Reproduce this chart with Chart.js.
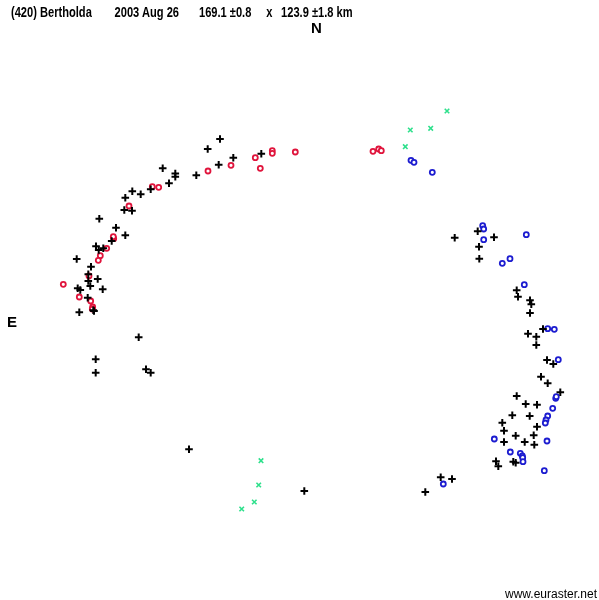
<!DOCTYPE html>
<html>
<head>
<meta charset="utf-8">
<script src="https://cdn.jsdelivr.net/npm/chart.js@4"></script>
<style>
  html, body { margin: 0; padding: 0; background: #fff; }
  #wrap { position: relative; width: 599px; height: 600px; overflow: hidden; }
  canvas { position: absolute; left: 0; top: 0; }
  .lbl { position: absolute; font-family: "Liberation Sans", Arial, sans-serif; color: #000; white-space: pre; line-height: 1; }
  #title { left: 11px; top: 4px; font-size: 15px; font-weight: bold; transform: scaleX(0.74); transform-origin: 0 0; width: 600px; height: 20px; }
  #title span { position: absolute; top: 0; }
  #n { left: 311px; top: 20px; font-size: 15px; font-weight: bold; }
  #e { left: 7px; top: 314px; font-size: 15px; font-weight: bold; }
  #foot { left: 505px; top: 588px; font-size: 12px; }
</style>
</head>
<body>
<div id="wrap">
  <canvas id="c" width="599" height="600"></canvas>
  <div class="lbl" id="title"><span style="left:0px">(420) Bertholda</span><span style="left:140px">2003 Aug 26</span><span style="left:254px">169.1 ±0.8</span><span style="left:345px">x</span><span style="left:365px">123.9 ±1.8 km</span></div>
  <div class="lbl" id="n">N</div>
  <div class="lbl" id="e">E</div>
  <div class="lbl" id="foot">www.euraster.net</div>
</div>
<script>
// Sky-plane plot units (east to the left, north up)
const positiveChordsX = [220,207.7,233.3,261.3,218.7,162.7,175.3,175.3,196.3,169,150.7,132.3,140.7,125.3,
  124.3,132,99.3,116,125.3,111.7,96,98.7,103.3,76.7,91,88.3,97.7,88.3,90.3,77.7,80.3,102.7,87.7,79.3,93.3,94,
  138.7,95.7,95.7,146,150.7,
  189,304.3,425.3,440.7,452,
  454.7,477.7,494,479,479.3,516.7,518,530,531.3,530,528,536.3,543,536.3,547,553.3,
  541,547.7,560.3,516.7,525.7,537,512.3,529.7,502.3,537,504,515.7,533.7,504,524.7,534.3,496,498.3,513.3,515.7];
const positiveChordsY = [139,149,157.7,153.7,164.7,168.3,173.5,176.7,175.3,183.3,189.3,191.3,194.3,197.7,
  210,210.7,218.7,227.7,235.3,241,246.3,250,248.3,259,266.7,274.3,279,281,286,288.3,290,289.3,297.7,312.3,310.3,311,
  337.3,359.3,372.7,369.3,372.7,
  449.3,491,492,477.3,479,
  237.7,231.3,237.3,246.7,258.7,290.3,296.7,300.3,304.3,313,333.7,336.7,329,345,360,364,
  376.7,383.3,392.3,396,404,404.7,415.3,416,422.7,426.7,430.7,435.7,435.3,442,442,444.7,461.3,466.3,461.7,462.7];

const disappearX = [295.3,272.3,272.3,255.3,260.3,231,208,152.3,158.7,129,113.7,113.3,106.7,100.3,98.3,89,63.3,79.3,90.7,92.7,92.3,
  373,378.7,381.3];
const disappearY = [152,150.7,153.3,157.7,168.3,165.3,171,186.7,187.3,206,238.7,236.7,248.3,255.7,260.3,276,284.3,297,301,307,309,
  151.3,149,150.7];

const reappearX = [411,414,432.3,482.7,483.7,483.7,526.3,502.3,510,524.3,547.7,554.3,558.3,
  555.7,556.3,552.7,547.7,546,545.3,494.3,547,510.3,520.3,522.3,522.7,523,544.3,443.3];
const reappearY = [160.3,162.3,172.3,225.7,229,239.7,234.7,263.3,258.7,284.7,328.7,329.3,359.7,
  398.3,396.7,408.3,416,420,423,439,441,452,453.3,456,457.7,461.7,470.7,484];

const negativeX = [447,410.3,430.7,405.3,261,258.7,254.3,241.7];
const negativeY = [111,130,128.3,146.7,460.7,485,502,509];

function pts(xs, ys) { return xs.map((x, i) => ({ x: x, y: ys[i] })); }

new Chart(document.getElementById('c'), {
  type: 'scatter',
  data: {
    datasets: [
      { label: 'chord points', data: pts(positiveChordsX, positiveChordsY), pointStyle: 'cross',
        pointRadius: 3.8, borderColor: '#000', backgroundColor: '#000', pointBorderWidth: 2 },
      { label: 'disappearance', data: pts(disappearX, disappearY), pointStyle: 'circle',
        pointRadius: 2.5, borderColor: '#e0143c', backgroundColor: '#fff', pointBorderWidth: 1.8 },
      { label: 'reappearance', data: pts(reappearX, reappearY), pointStyle: 'circle',
        pointRadius: 2.5, borderColor: '#1c1cd0', backgroundColor: '#fff', pointBorderWidth: 1.8 },
      { label: 'negative', data: pts(negativeX, negativeY), pointStyle: 'crossRot',
        pointRadius: 3.2, borderColor: '#2ee08c', backgroundColor: '#2ee08c', pointBorderWidth: 1.6 }
    ]
  },
  options: {
    responsive: false,
    animation: false,
    clip: false,
    layout: { padding: 0, autoPadding: false },
    plugins: { legend: { display: false }, tooltip: { enabled: false }, title: { display: false } },
    scales: {
      x: { type: 'linear', min: 0, max: 599, display: false },
      y: { type: 'linear', min: 0, max: 600, reverse: true, display: false }
    }
  }
});
</script>
</body>
</html>
